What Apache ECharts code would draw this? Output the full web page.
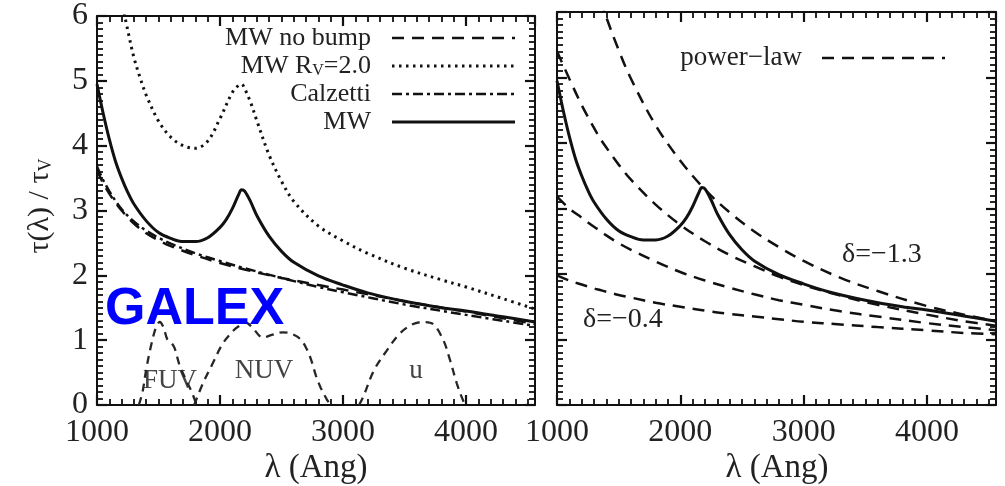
<!DOCTYPE html>
<html>
<head>
<meta charset="utf-8">
<script src="https://cdn.jsdelivr.net/npm/echarts@6/dist/echarts.min.js"></script>
<style>
  html, body { margin: 0; padding: 0; background: #fff; }
  #c { width: 1005px; height: 486px; }
</style>
</head>
<body>
<div id="c"></div>
<script>
// ---- attenuation curves, tau(lambda)/tau_V, wavelength in Angstrom ----
const lamMW = [1000,1050,1100,1150,1200,1250,1300,1400,1500,1600,1700,1800,1900,2000,2050,2100,2150,2175,2200,2250,2300,2400,2500,2600,2800,3000,3200,3500,3800,4000,4300,4560];
const mw    = [4.95,4.50,4.10,3.76,3.50,3.28,3.10,2.84,2.66,2.57,2.52,2.52,2.58,2.74,2.86,3.03,3.24,3.32,3.30,3.13,2.92,2.60,2.37,2.20,1.99,1.85,1.73,1.60,1.50,1.45,1.36,1.28];

const lamRv2 = [1220,1250,1300,1350,1400,1500,1600,1700,1800,1900,2000,2100,2150,2175,2200,2250,2300,2400,2500,2600,2800,3000,3200,3500,3800,4000,4300,4560];
const mwRv2  = [6.05,5.78,5.36,5.05,4.78,4.38,4.13,4.00,3.96,4.07,4.42,4.82,4.93,4.95,4.88,4.66,4.38,3.85,3.45,3.14,2.76,2.53,2.34,2.11,1.93,1.82,1.64,1.48];

const lamFlat  = [1000,1050,1100,1150,1200,1300,1400,1500,1600,1800,2000,2200,2500,2800,3000,3500,4000,4560];
const calzetti = [3.68,3.47,3.30,3.15,3.02,2.83,2.69,2.58,2.49,2.34,2.22,2.11,1.96,1.82,1.74,1.55,1.39,1.22];
const mwNoBump = [3.62,3.42,3.26,3.12,3.00,2.80,2.65,2.54,2.45,2.31,2.19,2.09,1.96,1.85,1.78,1.60,1.44,1.25];

// ---- filter transmission curves (arbitrary scale) ----
const lamFUV = [1340,1370,1400,1440,1480,1510,1540,1570,1600,1630,1670,1720,1770,1810];
const fuv    = [0,0.20,0.55,0.92,1.20,1.28,1.20,1.02,0.97,0.88,0.62,0.40,0.20,0];
const lamNUV = [1790,1860,1940,2020,2100,2140,2210,2260,2350,2420,2510,2580,2650,2700,2740,2780,2820,2870,2900];
const nuv    = [0,0.33,0.64,0.94,1.13,1.20,1.27,1.20,1.04,1.08,1.12,1.10,1.02,0.88,0.70,0.45,0.26,0.08,0];
const lamU   = [3130,3165,3250,3355,3460,3560,3650,3730,3815,3870,3925,3980,4000];
const uBand  = [0,0.13,0.53,0.84,1.10,1.24,1.28,1.25,1.00,0.69,0.33,0.05,0];
const filterNames = ['FUV', 'NUV', 'u'];

// ---- power-law attenuation curves ----
const lamPL = [1000,1100,1200,1300,1350,1400,1500,1600,1800,2000,2200,2400,2600,2800,3000,3300,3600,4000,4300,4560];
const plD04 = [1.98,1.90,1.84,1.78,1.755,1.73,1.68,1.64,1.56,1.50,1.44,1.39,1.35,1.31,1.27,1.23,1.19,1.14,1.10,1.08];
const plD07 = [3.18,3.00,2.86,2.72,2.66,2.59,2.47,2.37,2.19,2.03,1.90,1.79,1.69,1.60,1.53,1.43,1.35,1.25,1.19,1.14];
const plD10 = [5.40,4.98,4.58,4.23,4.07,3.93,3.67,3.44,3.06,2.75,2.50,2.29,2.12,1.96,1.83,1.67,1.53,1.38,1.28,1.21];
const plD13 = [9.17,8.10,7.24,6.52,6.21,5.92,5.42,4.98,4.27,3.73,3.29,2.94,2.65,2.41,2.20,1.94,1.74,1.51,1.38,1.28];
const deltaLabels = ['δ=−1.3', 'δ=−0.4'];

// ---- axes and legend text ----
const X_MIN = 1000, X_MAX = 4560, Y_MIN = 0, Y_MAX = 6;
const xTickLabels = [1000, 2000, 3000, 4000];
const yTickLabels = [0, 1, 2, 3, 4, 5, 6];
const legendLeftNames = ['MW no bump', 'MW R{s|V}=2.0', 'Calzetti', 'MW'];
const legendRightName = 'power−law';
const xTitle = 'λ (Ang)';
const yTitle = 'τ(λ) / τ{s|V}';

const SERIF = '"Liberation Serif", "DejaVu Serif", serif';
const INK = '#111111';
const TXT = '#222222';

const pairs = (xs, ys) => xs.map((x, i) => [x, ys[i]]);

// wavelength axis; "major" axes carry the box line, labels and long ticks,
// the companion axes only add the short 100 A ticks
function makeXAxis(gridIndex, position, major, labels) {
  return {
    type: 'value', gridIndex, position,
    min: X_MIN, max: X_MAX, interval: major ? 1000 : 100,
    axisLine: { show: major, onZero: false, lineStyle: { color: INK, width: 2 } },
    axisTick: { show: true, inside: true, length: major ? 10 : 6,
                lineStyle: { color: INK, width: major ? 2.2 : 1.8 } },
    axisLabel: { show: labels, showMaxLabel: false, margin: 12,
                 fontFamily: SERIF, fontSize: 32, color: TXT,
                 formatter: v => (xTickLabels.indexOf(v) >= 0 ? String(v) : '') },
    splitLine: { show: false }
  };
}

function makeYAxis(gridIndex, position, labels) {
  return {
    type: 'value', gridIndex, position,
    min: Y_MIN, max: Y_MAX, interval: 1,
    axisLine: { show: true, onZero: false, lineStyle: { color: INK, width: 2 } },
    axisTick: { show: true, inside: true, length: 10, lineStyle: { color: INK, width: 2.2 } },
    minorTick: { show: true, splitNumber: 10, length: 6, lineStyle: { color: INK, width: 1.8 } },
    axisLabel: { show: labels, margin: 9, fontFamily: SERIF, fontSize: 32, color: TXT,
                 formatter: v => (yTickLabels.indexOf(v) >= 0 ? String(v) : '') },
    splitLine: { show: false }
  };
}

function curve(name, xs, ys, xIdx, yIdx, style, z) {
  return {
    name, type: 'line', xAxisIndex: xIdx, yAxisIndex: yIdx,
    data: pairs(xs, ys), showSymbol: false, symbol: 'none',
    smooth: 0.35, z: z || 2,
    lineStyle: Object.assign({ color: INK, width: 2.5, type: 'solid' }, style)
  };
}

const DASH = [12, 8];
const DOT = [2.5, 4.5];
const DASHDOT = [10, 4, 3, 4];
const FILTER = { color: '#262626', width: 2.3, type: [8, 6] };

// xAxis order: 0-3 left panel (bottom, bottom minor, top, top minor), 4-7 right panel
const seriesList = [
  // left panel
  curve(filterNames[0], lamFUV, fuv, 0, 0, FILTER),
  curve(filterNames[1], lamNUV, nuv, 0, 0, FILTER),
  curve(filterNames[2], lamU, uBand, 0, 0, FILTER),
  curve('Calzetti', lamFlat, calzetti, 0, 0, { type: DASHDOT }),
  curve('MW no bump', lamFlat, mwNoBump, 0, 0, { type: DASH }),
  curve('MW Rv=2.0', lamRv2, mwRv2, 0, 0, { type: DOT, width: 3 }),
  curve('MW', lamMW, mw, 0, 0, { width: 3 }, 4),
  // right panel
  curve('delta -0.4', lamPL, plD04, 4, 2, { type: DASH }),
  curve('delta -0.7', lamPL, plD07, 4, 2, { type: DASH }),
  curve('delta -1.0', lamPL, plD10, 4, 2, { type: DASH }),
  curve('delta -1.3', lamPL, plD13, 4, 2, { type: DASH }),
  curve('MW ', lamMW, mw, 4, 2, { width: 3 }, 4)
];

function legendRow(label, y, dash, width) {
  return [
    { type: 'text', x: 371, y: y,
      style: { text: label, align: 'right', verticalAlign: 'middle',
               font: '26px ' + SERIF, fill: TXT,
               rich: { s: { fontFamily: SERIF, fontSize: 16, lineHeight: 14, verticalAlign: 'bottom', fill: TXT } } } },
    { type: 'line', shape: { x1: 392, y1: y, x2: 515, y2: y },
      style: { stroke: INK, lineWidth: width, lineDash: dash } }
  ];
}

const graphicList = [].concat(
  legendRow(legendLeftNames[0], 38, DASH, 2.5),
  legendRow(legendLeftNames[1], 66, DOT, 3),
  legendRow(legendLeftNames[2], 94, DASHDOT, 2.5),
  legendRow(legendLeftNames[3], 122, null, 3),
  [
    { type: 'text', x: 802, y: 58,
      style: { text: legendRightName, align: 'right', verticalAlign: 'middle',
               font: '27px ' + SERIF, fill: TXT } },
    { type: 'line', shape: { x1: 822, y1: 58, x2: 945, y2: 58 },
      style: { stroke: INK, lineWidth: 2.5, lineDash: DASH } },
    { type: 'text', x: 105, y: 310, z: 10,
      style: { text: 'GALEX', align: 'left', verticalAlign: 'middle',
               font: 'bold 52px "Liberation Sans", Arial, sans-serif', fill: '#0000ff' } },
    { type: 'text', x: 170, y: 381,
      style: { text: filterNames[0], align: 'center', verticalAlign: 'middle', font: '27px ' + SERIF, fill: '#444' } },
    { type: 'text', x: 264, y: 371,
      style: { text: filterNames[1], align: 'center', verticalAlign: 'middle', font: '27px ' + SERIF, fill: '#444' } },
    { type: 'text', x: 416, y: 371,
      style: { text: filterNames[2], align: 'center', verticalAlign: 'middle', font: '27px ' + SERIF, fill: '#444' } },
    { type: 'text', x: 842, y: 255,
      style: { text: deltaLabels[0], align: 'left', verticalAlign: 'middle', font: '28px ' + SERIF, fill: TXT } },
    { type: 'text', x: 583, y: 320,
      style: { text: deltaLabels[1], align: 'left', verticalAlign: 'middle', font: '28px ' + SERIF, fill: TXT } },
    { type: 'text', x: 316, y: 468,
      style: { text: xTitle, align: 'center', verticalAlign: 'middle', font: '33px ' + SERIF, fill: TXT } },
    { type: 'text', x: 777, y: 468,
      style: { text: xTitle, align: 'center', verticalAlign: 'middle', font: '33px ' + SERIF, fill: TXT } },
    { type: 'text', x: 40, y: 206, rotation: Math.PI / 2,
      style: { text: yTitle, align: 'center', verticalAlign: 'middle', font: '30px ' + SERIF, fill: TXT,
               rich: { s: { fontFamily: SERIF, fontSize: 18, lineHeight: 16, verticalAlign: 'bottom', fill: TXT } } } }
  ]
);

const chart = echarts.init(document.getElementById('c'));
chart.setOption({
  animation: false,
  grid: [
    { left: 97, right: 470, top: 12, bottom: 81 },
    { left: 557, right: 9, top: 12, bottom: 81 }
  ],
  xAxis: [
    makeXAxis(0, 'bottom', true, true),
    makeXAxis(0, 'bottom', false, false),
    makeXAxis(0, 'top', true, false),
    makeXAxis(0, 'top', false, false),
    makeXAxis(1, 'bottom', true, true),
    makeXAxis(1, 'bottom', false, false),
    makeXAxis(1, 'top', true, false),
    makeXAxis(1, 'top', false, false)
  ],
  yAxis: [
    makeYAxis(0, 'left', true),
    makeYAxis(0, 'right', false),
    makeYAxis(1, 'left', false),
    makeYAxis(1, 'right', false)
  ],
  series: seriesList,
  graphic: graphicList
});
</script>
</body>
</html>
